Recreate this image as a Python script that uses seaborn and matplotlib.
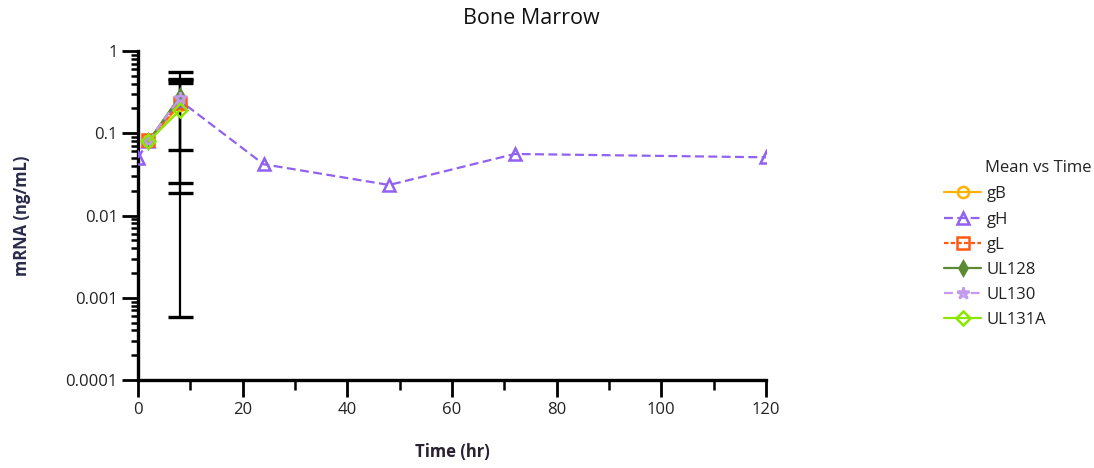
import numpy as np
import pandas as pd
import matplotlib
matplotlib.use("Agg")
import matplotlib.pyplot as plt
import seaborn as sns

# ---- data ----
series_names = ["gB", "gH", "gL", "UL128", "UL130", "UL131A"]
time_gH = [0, 2, 8, 24, 48, 72, 120]
mean_gH = [0.050, 0.080, 0.25, 0.042, 0.0235, 0.056, 0.051]
time_short = [2, 8]
mean_gB = [0.080, 0.22]
mean_gL = [0.082, 0.23]
mean_UL128 = [0.080, 0.28]
mean_UL130 = [0.080, 0.27]
mean_UL131A = [0.080, 0.19]

# error bars at t=8 (lower, upper) per series
err_series = ["gB", "gL", "UL128", "UL130"]
err_time = [8, 8, 8, 8]
err_mean = [0.22, 0.23, 0.28, 0.27]
err_low = [0.00059, 0.0247, 0.0187, 0.0627]
err_high = [0.44, 0.405, 0.555, 0.453]

colors = {"gB": "#FFB000", "gH": "#9161F2", "gL": "#FF5A14",
          "UL128": "#5C8A33", "UL130": "#C29AF0", "UL131A": "#8CE600"}
markers = {"gB": "o", "gH": "^", "gL": "s", "UL128": "d", "UL130": "*", "UL131A": "D"}
lstyles = {"gB": "-", "gH": (0, (4, 2)), "gL": (0, (2, 1)), "UL128": "-",
           "UL130": (0, (4, 2)), "UL131A": "-"}
msizes = {"gB": 8, "gH": 9, "gL": 8, "UL128": 7, "UL130": 9, "UL131A": 7}

sns.set_theme(style="white")
plt.rcParams["font.family"] = ["Open Sans", "DejaVu Sans"]

frames = []
frames.append(pd.DataFrame({"series": "gB", "time": time_short, "mean": mean_gB}))
frames.append(pd.DataFrame({"series": "gH", "time": time_gH, "mean": mean_gH}))
frames.append(pd.DataFrame({"series": "gL", "time": time_short, "mean": mean_gL}))
frames.append(pd.DataFrame({"series": "UL128", "time": time_short, "mean": mean_UL128}))
frames.append(pd.DataFrame({"series": "UL130", "time": time_short, "mean": mean_UL130}))
frames.append(pd.DataFrame({"series": "UL131A", "time": time_short, "mean": mean_UL131A}))
df = pd.concat(frames, ignore_index=True)

fig = plt.figure(figsize=(10.94, 4.68), dpi=100)
ax = fig.add_axes([138 / 1094, 1 - 380 / 468, (766 - 138) / 1094, (380 - 51) / 468])

# error bars (drawn first, black)
edf = pd.DataFrame({"time": err_time, "mean": err_mean, "low": err_low, "high": err_high})
ax.errorbar(edf["time"], edf["mean"],
            yerr=[edf["mean"] - edf["low"], edf["high"] - edf["mean"]],
            fmt="none", ecolor="black", elinewidth=1.6, capsize=9, capthick=2.4, zorder=1)

for name in series_names:
    sub = df[df["series"] == name]
    c = colors[name]
    filled = name in ("UL128",)
    sns.lineplot(data=sub, x="time", y="mean", ax=ax, color=c, label=name,
                 linestyle=lstyles[name], linewidth=1.6, marker=markers[name],
                 markersize=msizes[name], markeredgewidth=1.8,
                 markerfacecolor=c if filled else "none", markeredgecolor=c,
                 zorder=3)

ax.set_yscale("log")
ax.set_ylim(1e-4, 1)
ax.set_xlim(0, 120)
ax.set_xticks(np.arange(0, 121, 20))
ax.set_xticks(np.arange(0, 121, 10), minor=True)
ax.set_yticks([1e-4, 1e-3, 1e-2, 1e-1, 1])
ax.set_yticklabels(["0.0001", "0.001", "0.01", "0.1", "1"])
ax.yaxis.set_minor_locator(matplotlib.ticker.LogLocator(base=10, subs=np.arange(2, 10), numticks=20))
ax.yaxis.set_minor_formatter(matplotlib.ticker.NullFormatter())

for s in ["top", "right"]:
    ax.spines[s].set_visible(False)
for s in ["left", "bottom"]:
    ax.spines[s].set_linewidth(2.4)
    ax.spines[s].set_color("black")

ax.tick_params(axis="y", which="major", direction="out", length=11.5, width=2,
               color="black", labelsize=12, labelcolor="#222222", pad=3, left=True)
ax.tick_params(axis="x", which="major", direction="out", length=12, width=2,
               color="black", labelsize=12, labelcolor="#222222", pad=4, bottom=True)
ax.tick_params(axis="y", which="minor", direction="out", length=5, width=1.8,
               color="black", left=True)
ax.tick_params(axis="x", which="minor", direction="out", length=7, width=1.8,
               color="black", bottom=True)

ax.set_xlabel("Time (hr)", fontsize=12, fontweight="bold", color="#2a2233", labelpad=18)
ax.set_ylabel("mRNA (ng/mL)", fontsize=12, fontweight="bold", color="#2a2a4a", labelpad=25)

fig.text(531 / 1094, 1 - 19 / 468, "Bone Marrow", ha="center", va="center", fontsize=15.5,
         color="#111111")

leg = ax.legend(loc="upper left",
                bbox_to_anchor=(936 / 1094, 1 - 178 / 468), bbox_transform=fig.transFigure,
                frameon=False, fontsize=12, handlelength=2.2, handletextpad=0.35,
                labelspacing=0.55, borderpad=0)
for t in leg.get_texts():
    t.set_color("#222222")
fig.text(985 / 1094, 1 - 168 / 468, "Mean vs Time", ha="left", va="center", fontsize=12,
         color="#222222")

fig.savefig("out.png", dpi=100)
